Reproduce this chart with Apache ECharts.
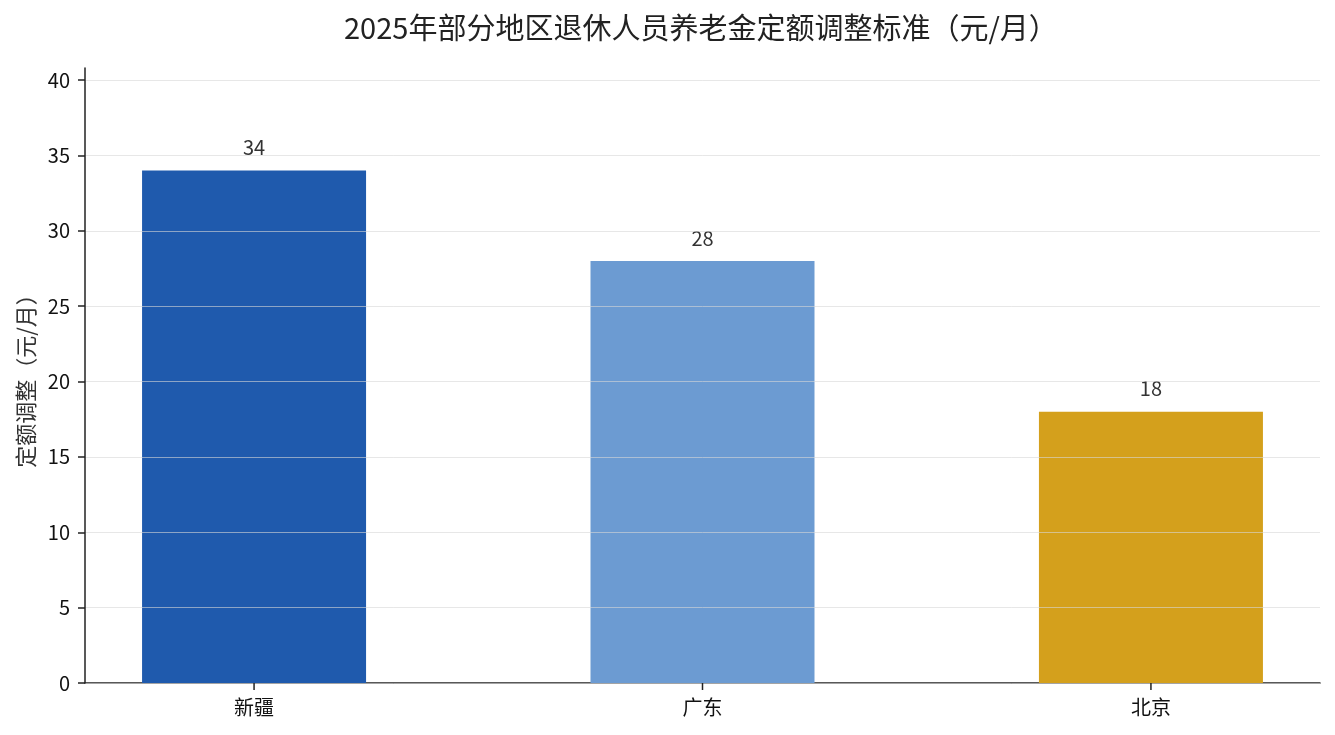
<!DOCTYPE html>
<html>
<head>
<meta charset="utf-8">
<script src="https://cdn.jsdelivr.net/npm/echarts@6/dist/echarts.min.js"></script>
<style>
  html, body { margin: 0; padding: 0; background: #fff; }
  #main { width: 1335px; height: 735px; }
</style>
</head>
<body>
<div id="main"></div>
<script>
const regions = ['新疆', '广东', '北京'];
const adjustValues = [34, 28, 18];
const barColors = ['#1f5aad', '#6c9bd2', '#d4a01c'];
const yTicks = [0, 5, 10, 15, 20, 25, 30, 35, 40];

const chart = echarts.init(document.getElementById('main'));
const font = '"Noto Sans CJK SC", "Noto Sans", sans-serif';

const barData = adjustValues.map(function (v, i) {
  return { value: [i, v], itemStyle: { color: barColors[i] } };
});

const option = {
  backgroundColor: '#fff',
  animation: false,
  title: {
    text: '2025年部分地区退休人员养老金定额调整标准（元/月）',
    left: 339,
    top: 8,
    textStyle: { fontFamily: font, fontSize: 29, fontWeight: 'normal', color: '#222' }
  },
  grid: { left: 85, right: 15, top: 68, bottom: 52 },
  xAxis: {
    type: 'value',
    min: -0.377,
    max: 2.377,
    axisLine: { show: true, onZero: false, lineStyle: { color: '#222', width: 1.5 } },
    axisTick: { show: false },
    axisLabel: {
      customValues: [0, 1, 2],
      formatter: function (v) { return regions[Math.round(v)]; },
      fontFamily: font, fontSize: 20, color: '#111', margin: 14
    },
    splitLine: { show: false }
  },
  yAxis: {
    type: 'value',
    min: 0,
    max: 40.8,
    z: 3,
    name: '定额调整（元/月）',
    nameLocation: 'middle',
    nameGap: 48,
    nameTextStyle: { fontFamily: font, fontSize: 22, color: '#333' },
    axisLine: { show: true, onZero: false, lineStyle: { color: '#222', width: 1.5 } },
    axisTick: { show: true, customValues: yTicks, length: 7, lineStyle: { color: '#222', width: 1.5 } },
    axisLabel: { customValues: yTicks, fontFamily: font, fontSize: 20, color: '#111', margin: 15 },
    splitLine: { show: true, lineStyle: { color: 'rgba(215,215,215,0.6)', width: 1 } }
  },
  series: [{
    type: 'bar',
    barWidth: 224,
    data: barData,
    label: {
      show: true,
      position: 'top',
      distance: 13,
      formatter: function (p) { return p.value[1]; },
      fontFamily: font, fontSize: 20, color: '#333'
    }
  }]
};

chart.setOption(option);

// x-axis tick marks under each category, placed through the axis scale
const tickLines = regions.map(function (r, i) {
  const p = chart.convertToPixel({ xAxisIndex: 0, yAxisIndex: 0 }, [i, 0]);
  return {
    type: 'line',
    z: 10,
    silent: true,
    shape: { x1: p[0], y1: p[1], x2: p[0], y2: p[1] + 7 },
    style: { stroke: '#222', lineWidth: 1.5 }
  };
});
chart.setOption({ graphic: tickLines });
</script>
</body>
</html>
